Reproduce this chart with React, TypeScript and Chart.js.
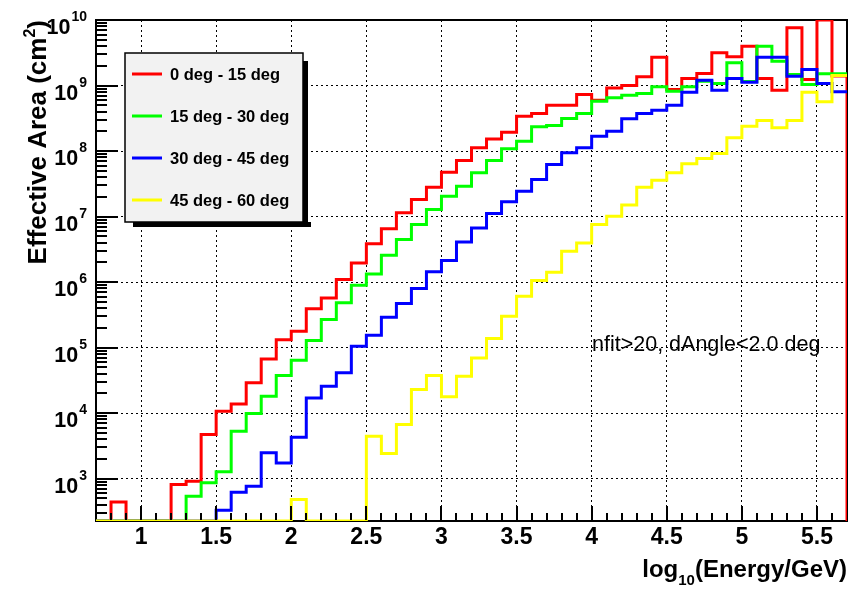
import React, { useEffect, useRef } from 'react';
import { Chart, registerables } from 'chart.js';

Chart.register(...registerables);

// ---------- data ----------
const X_MIN = 0.7;
const X_MAX = 5.7;
const BIN_WIDTH = 0.1;
const Y_MIN = 225;
const Y_MAX = 1e10;

const seriesLabels = ['0 deg - 15 deg', '15 deg - 30 deg', '30 deg - 45 deg', '45 deg - 60 deg'];
const seriesColors = ['#ff0000', '#00ff00', '#0000ff', '#ffff00'];

// effective area per log10(E) bin (bins of 0.1 starting at 0.7)
const area0to15 = [
  0, 440, 0, 0, 0, 810, 910, 4700, 10700, 13800,
  28900, 67000, 132000, 177000, 390000, 573000, 1.09e6, 1.96e6, 3.83e6, 6.49e6,
  1.14e7, 1.82e7, 2.8e7, 4.75e7, 7.16e7, 1.12e8, 1.53e8, 1.94e8, 3.4e8, 3.74e8,
  5.0e8, 5.0e8, 7.29e8, 5.97e8, 9.2e8, 1.0e9, 1.36e9, 2.7e9, 8.7e8, 1.28e9,
  1.52e9, 3.16e9, 2.74e9, 3.98e9, 1.28e9, 8.5e8, 7.6e9, 1.24e9, 1.0e10, 1.4e9,
];
const area15to30 = [
  0, 0, 0, 0, 0, 0, 537, 860, 1265, 5270,
  9820, 18000, 37400, 64000, 128000, 267000, 481000, 893000, 1.33e6, 2.57e6,
  4.46e6, 7.55e6, 1.28e7, 2.04e7, 2.9e7, 4.65e7, 7.16e7, 1.08e8, 1.41e8, 2.34e8,
  2.45e8, 3.13e8, 3.74e8, 5.76e8, 6.5e8, 7.1e8, 7.55e8, 9.55e8, 8.2e8, 9.55e8,
  1.16e9, 1.07e9, 2.22e9, 1.15e9, 3.98e9, 2.35e9, 1.47e9, 1.04e9, 1.51e9, 1.51e9,
];
const area30to45 = [
  0, 0, 0, 0, 0, 0, 0, 0, 328, 618,
  762, 2470, 1735, 4270, 17000, 25700, 41100, 105000, 154000, 290000,
  470000, 796000, 1.43e6, 2.13e6, 4.1e6, 6.7e6, 1.11e7, 1.68e7, 2.43e7, 3.67e7,
  6.22e7, 9.38e7, 1.12e8, 1.68e8, 2.0e8, 3.1e8, 3.74e8, 4.2e8, 5.0e8, 7.9e8,
  1.2e9, 8.5e8, 1.28e9, 1.12e9, 2.7e9, 2.7e9, 1.39e9, 1.75e9, 1.07e9, 8.0e8,
];
const area45to60 = [
  0, 0, 0, 0, 0, 0, 0, 0, 0, 0,
  0, 0, 0, 480, 0, 0, 0, 0, 4420, 2410,
  6670, 22800, 37400, 17700, 36500, 69500, 137000, 300000, 607000, 1.06e6,
  1.41e6, 2.95e6, 3.96e6, 7.55e6, 1.01e7, 1.5e7, 2.8e7, 3.58e7, 4.65e7, 6.38e7,
  7.68e7, 9.2e7, 1.59e8, 2.39e8, 2.92e8, 2.26e8, 2.92e8, 7.9e8, 5.64e8, 1.42e9,
];

const xMajorTicks = [1, 1.5, 2, 2.5, 3, 3.5, 4, 4.5, 5, 5.5];
const xTickLabels = ['1', '1.5', '2', '2.5', '3', '3.5', '4', '4.5', '5', '5.5'];
const yDecadeExponents = [3, 4, 5, 6, 7, 8, 9, 10];
const xTitleMain = 'log';
const xTitleSub = '10';
const xTitleRest = '(Energy/GeV)';
const yTitleMain = 'Effective Area (cm';
const yTitleSup = '2';
const yTitleEnd = ')';
const annotationText = 'nfit>20, dAngle<2.0 deg';

const FONT = '"Liberation Sans", Arial, Helvetica, sans-serif';

// ---------- helpers ----------
function histPoints(values: number[], dropAtEnd: boolean) {
  const pts = values.map((v, i) => ({
    x: Math.round((X_MIN + i * BIN_WIDTH) * 100) / 100,
    y: v > 0 ? v : Y_MIN,
  }));
  const last = values[values.length - 1];
  pts.push({ x: X_MAX, y: last > 0 ? last : Y_MIN });
  if (dropAtEnd) pts.push({ x: X_MAX, y: Y_MIN });
  return pts;
}

const xTickValues: number[] = [];
for (let i = 1; i < 50; i++) xTickValues.push(Math.round((X_MIN + i * BIN_WIDTH) * 100) / 100);
const yTickValues: number[] = [];
for (let n = 2; n <= 9; n++) {
  for (let k = 1; k <= 9; k++) {
    const v = k * Math.pow(10, n);
    if (v > Y_MIN && v < Y_MAX) yTickValues.push(v);
  }
}

const isMajorX = (v: number) => xMajorTicks.some((m) => Math.abs(m - v) < 1e-6);
const isDecade = (v: number) => {
  const l = Math.log10(v);
  return Math.abs(l - Math.round(l)) < 1e-6;
};

// frame below the histograms, inward tick marks above them (ROOT style)
const axesPlugin = {
  id: 'rootAxes',
  beforeDatasetsDraw(chart: any) {
    const ctx = chart.ctx as CanvasRenderingContext2D;
    const a = chart.chartArea;
    ctx.save();
    ctx.setLineDash([]);
    ctx.fillStyle = '#000';
    ctx.fillRect(a.left - 1, a.top - 1, a.right - a.left + 2, 2);
    ctx.fillRect(a.left - 1, a.top - 1, 2, a.bottom - a.top + 2);
    ctx.fillRect(a.right - 1, a.top - 1, 2, a.bottom - a.top + 2);
    ctx.fillRect(a.left - 1, a.bottom - 1, a.right - a.left + 2, 2);
    ctx.restore();
  },
  afterDatasetsDraw(chart: any) {
    const ctx = chart.ctx as CanvasRenderingContext2D;
    const a = chart.chartArea;
    const xs = chart.scales['x'];
    const ys = chart.scales['y'];
    ctx.save();
    ctx.setLineDash([]);
    ctx.fillStyle = '#000';
    xTickValues.forEach((v) => {
      const px = xs.getPixelForValue(v);
      const len = isMajorX(v) ? 14 : 7;
      ctx.fillRect(Math.round(px) - 1, a.bottom - len - 1, 2, len);
    });
    yTickValues.forEach((v) => {
      const py = ys.getPixelForValue(v);
      const len = isDecade(v) ? 22 : 11;
      ctx.fillRect(a.left, Math.round(py) - 1, len, 2);
    });
    ctx.restore();
  },
};

const textPlugin = {
  id: 'rootText',
  afterDraw(chart: any) {
    const ctx = chart.ctx as CanvasRenderingContext2D;
    const { right, top } = chart.chartArea;
    const ys = chart.scales['y'];
    ctx.save();
    ctx.setLineDash([]);
    ctx.fillStyle = '#000';
    ctx.textAlign = 'left';
    ctx.textBaseline = 'alphabetic';

    // y tick labels 10^n
    yDecadeExponents.forEach((n) => {
      const py = ys.getPixelForValue(Math.pow(10, n));
      const exp = String(n);
      ctx.font = `bold 14px ${FONT}`;
      const ew = ctx.measureText(exp).width;
      ctx.font = `bold 21.5px ${FONT}`;
      const tw = ctx.measureText('10').width;
      const xr = 87;
      ctx.fillText('10', xr - ew - 1 - tw, py + 14);
      ctx.font = `bold 14px ${FONT}`;
      ctx.fillText(exp, xr - ew, py + 1);
    });

    // x title
    {
      ctx.font = `bold 24px ${FONT}`;
      const w1 = ctx.measureText(xTitleMain).width;
      const w3 = ctx.measureText(xTitleRest).width;
      ctx.font = `bold 15px ${FONT}`;
      const w2 = ctx.measureText(xTitleSub).width;
      const x0 = right - (w1 + w2 + w3);
      const by = 577;
      ctx.font = `bold 24px ${FONT}`;
      ctx.fillText(xTitleMain, x0, by);
      ctx.font = `bold 15px ${FONT}`;
      ctx.fillText(xTitleSub, x0 + w1, by + 8);
      ctx.font = `bold 24px ${FONT}`;
      ctx.fillText(xTitleRest, x0 + w1 + w2, by);
    }

    // y title (rotated)
    {
      ctx.save();
      ctx.translate(46, top);
      ctx.rotate(-Math.PI / 2);
      ctx.font = `bold 26px ${FONT}`;
      const w1 = ctx.measureText(yTitleMain).width;
      const w3 = ctx.measureText(yTitleEnd).width;
      ctx.font = `bold 16px ${FONT}`;
      const w2 = ctx.measureText(yTitleSup).width;
      const x0 = -(w1 + w2 + w3);
      ctx.font = `bold 26px ${FONT}`;
      ctx.fillText(yTitleMain, x0, 0);
      ctx.font = `bold 16px ${FONT}`;
      ctx.fillText(yTitleSup, x0 + w1, -11);
      ctx.font = `bold 26px ${FONT}`;
      ctx.fillText(yTitleEnd, x0 + w1 + w2, 0);
      ctx.restore();
    }

    // annotation
    ctx.font = `21.5px ${FONT}`;
    ctx.fillText(annotationText, 592, 351);

    // legend
    {
      const lx = 125, ly = 53, lw = 178, lh = 169;
      ctx.fillStyle = '#000';
      ctx.fillRect(lx + 8, ly + lh, lw, 5);
      ctx.fillRect(lx + lw, ly + 8, 5, lh - 3);
      ctx.fillStyle = '#f2f2f2';
      ctx.fillRect(lx, ly, lw, lh);
      ctx.strokeStyle = '#000';
      ctx.lineWidth = 1.5;
      ctx.strokeRect(lx, ly, lw, lh);
      seriesLabels.forEach((lab, i) => {
        const ry = ly + 21 + i * 42;
        ctx.strokeStyle = seriesColors[i];
        ctx.lineWidth = 3;
        ctx.beginPath();
        ctx.moveTo(lx + 7, ry);
        ctx.lineTo(lx + 37, ry);
        ctx.stroke();
        ctx.fillStyle = '#000';
        ctx.font = `bold 16.5px ${FONT}`;
        ctx.fillText(lab, lx + 45, ry + 6);
      });
    }
    ctx.restore();
  },
};

const seriesValues = [area0to15, area15to30, area30to45, area45to60];

export default function App() {
  const ref = useRef<HTMLCanvasElement>(null);
  useEffect(() => {
    const canvas = ref.current;
    if (!canvas) return;
    const drawOrder = [3, 2, 1, 0];
    const chart = new Chart(canvas, {
      type: 'line',
      data: {
        datasets: seriesValues.map((vals, i) => ({
          label: seriesLabels[i],
          data: histPoints(vals, i === 0),
          borderColor: seriesColors[i],
          backgroundColor: seriesColors[i],
          borderWidth: 3,
          pointRadius: 0,
          stepped: 'before' as const,
          fill: false,
          order: drawOrder[i],
          borderJoinStyle: 'miter' as const,
          borderCapStyle: 'butt' as const,
        })),
      },
      options: {
        responsive: false,
        devicePixelRatio: 1,
        animation: false,
        parsing: false as any,
        normalized: true,
        layout: { padding: { left: 0, top: 20, right: 15, bottom: 0 } },
        plugins: { legend: { display: false }, tooltip: { enabled: false } },
        scales: {
          x: {
            type: 'linear',
            min: X_MIN,
            max: X_MAX,
            afterBuildTicks: (s: any) => {
              s.ticks = xTickValues.map((v) => ({ value: v }));
            },
            afterFit: (s: any) => {
              s.height = 68;
            },
            ticks: {
              autoSkip: false,
              maxRotation: 0,
              minRotation: 0,
              padding: 3,
              color: '#000',
              font: { family: FONT, size: 23, weight: 'bold' },
              callback: (v: any) => {
                const idx = xMajorTicks.findIndex((m) => Math.abs(m - Number(v)) < 1e-6);
                return idx >= 0 ? xTickLabels[idx] : '';
              },
            },
            grid: {
              drawTicks: false,
              lineWidth: 1,
              color: (c: any) => (c.tick && isMajorX(c.tick.value) ? '#000' : 'rgba(0,0,0,0)'),
            },
            border: { display: false, dash: [2, 3] },
          },
          y: {
            type: 'logarithmic',
            min: Y_MIN,
            max: Y_MAX,
            afterBuildTicks: (s: any) => {
              s.ticks = yTickValues.map((v) => ({ value: v })).concat([{ value: Y_MAX }]);
            },
            afterFit: (s: any) => {
              s.width = 96;
            },
            ticks: { display: false },
            grid: {
              drawTicks: false,
              lineWidth: 1,
              color: (c: any) =>
                c.tick && isDecade(c.tick.value) && c.tick.value < Y_MAX ? '#000' : 'rgba(0,0,0,0)',
            },
            border: { display: false, dash: [2, 3] },
          },
        },
      },
      plugins: [axesPlugin, textPlugin],
    } as any);
    return () => chart.destroy();
  }, []);
  return (
    <div style={{ position: 'fixed', left: 0, top: 0, width: 862, height: 589, background: '#fff' }}>
      <canvas ref={ref} width={862} height={589} style={{ display: 'block', width: 862, height: 589 }} />
    </div>
  );
}
